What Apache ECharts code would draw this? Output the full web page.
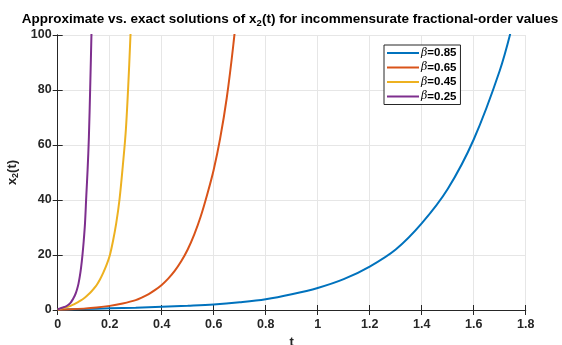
<!DOCTYPE html>
<html>
<head>
<meta charset="utf-8">
<script src="https://cdn.jsdelivr.net/npm/echarts@6/dist/echarts.min.js"></script>
<style>
  html, body { margin: 0; padding: 0; background: #fff; }
  #chart { width: 562px; height: 345px; }
</style>
</head>
<body>
<div id="chart"></div>
<script>
// values, t -> x2(t)
var names = ['β=0.85', 'β=0.65', 'β=0.45', 'β=0.25'];
var colors = ['#0072BD', '#D95319', '#EDB120', '#7E2F8E'];

var tBlue = [0, 0.1, 0.2, 0.3, 0.4, 0.5, 0.6, 0.7, 0.8, 0.9, 1.0, 1.1, 1.2, 1.3, 1.4, 1.5, 1.6, 1.7, 1.75, 1.8];
var vBlue = [0.1, 0.35, 0.6, 0.85, 1.2, 1.55, 2.0, 2.8, 3.9, 5.7, 8.0, 11.2, 15.8, 22, 31.5, 44, 62, 87, 104, 125];

var tRed = [0, 0.05, 0.1, 0.15, 0.2, 0.25, 0.3, 0.325, 0.35, 0.375, 0.4, 0.425, 0.45, 0.475, 0.5,
            0.525, 0.55, 0.575, 0.6, 0.625, 0.65, 0.675, 0.7];
var vRed = [0.1, 0.25, 0.5, 0.9, 1.5, 2.4, 3.6, 4.6, 5.8, 7.3, 9.1, 11.4, 14.2, 17.7, 22,
            27.4, 34, 42, 51, 62.5, 77, 96, 119];

var tYellow = [0, 0.0125, 0.025, 0.0375, 0.05, 0.0625, 0.075, 0.0875, 0.1, 0.1125, 0.125, 0.1375,
               0.15, 0.1625, 0.175, 0.1875, 0.2, 0.2125, 0.225, 0.2375, 0.25, 0.2625, 0.275, 0.2875];
var vYellow = [0.2, 0.5, 0.8, 1.15, 1.5, 2.05, 2.7, 3.4, 4.2, 5.2, 6.3, 7.6,
               9.1, 11.1, 13.5, 16.3, 19.7, 25, 31.5, 40, 52, 66, 89, 118];

var tPurple = [0, 0.01, 0.02, 0.03, 0.04, 0.05, 0.055, 0.06, 0.065, 0.07, 0.075, 0.08, 0.085,
               0.09, 0.095, 0.1, 0.105, 0.11, 0.115, 0.12, 0.125, 0.13, 0.135];
var vPurple = [0.3, 0.6, 0.9, 1.25, 1.8, 2.7, 3.4, 4.2, 5.1, 6.2, 7.7, 9.6, 12.2,
               15.5, 19.8, 25, 31.5, 41.5, 51, 63, 81, 101, 125];

var xTicks = [0, 0.2, 0.4, 0.6, 0.8, 1, 1.2, 1.4, 1.6, 1.8];
var yTicks = [0, 20, 40, 60, 80, 100];

function pairs(t, v) {
    var out = [];
    for (var i = 0; i < t.length; i++) out.push([t[i], v[i]]);
    return out;
}

var allData = [pairs(tBlue, vBlue), pairs(tRed, vRed), pairs(tYellow, vYellow), pairs(tPurple, vPurple)];

var ink = '#262626';
var font = 'Liberation Sans, Arial, Helvetica, sans-serif';

var chart = echarts.init(document.getElementById('chart'), null, {renderer: 'canvas'});

var series = allData.map(function (d, i) {
    return {
        name: names[i],
        type: 'line',
        data: d,
        showSymbol: false,
        symbol: 'none',
        smooth: 0.35,
        clip: true,
        lineStyle: {color: colors[i], width: 2},
        itemStyle: {color: colors[i]},
        z: 3 + i
    };
});

// frame axes (top / right) only carry the inside ticks of the box
function frameAxis(pos, isX) {
    return {
        type: 'value',
        position: pos,
        min: 0,
        max: isX ? 1.8 : 100,
        interval: isX ? 0.2 : 20,
        axisLine: {show: true, lineStyle: {color: ink, width: 1}},
        axisTick: {show: true, inside: true, length: 5, lineStyle: {color: ink}},
        axisLabel: {show: false},
        splitLine: {show: false}
    };
}

var option = {
    backgroundColor: '#fff',
    animation: false,
    title: {
        text: '{a|Approximate vs. exact solutions of x}{s|2}{a|(t) for incommensurate fractional-order values}',
        left: 290,
        top: 10,
        textAlign: 'center',
        padding: 0,
        textStyle: {
            rich: {
                a: {fontFamily: font, fontWeight: 'bold', fontSize: 13.5, color: '#000', lineHeight: 18},
                s: {fontFamily: font, fontWeight: 'bold', fontSize: 9.5, color: '#000', lineHeight: 18, padding: [8, 0, 0, 0]}
            }
        }
    },
    legend: {
        data: names,
        orient: 'vertical',
        left: 384,
        top: 45,
        icon: 'rect',
        itemWidth: 32,
        itemHeight: 2,
        itemGap: 2.5,
        padding: [2, 4, 2, 3],
        borderColor: ink,
        borderWidth: 1,
        backgroundColor: '#fff',
        formatter: function (n) {
            return '{g|β}{v|' + n.slice(1) + '}';
        },
        textStyle: {
            padding: [0, 0, 0, -3],
            rich: {
                g: {fontFamily: 'DejaVu Serif, Liberation Serif, serif', fontStyle: 'italic', fontSize: 11, color: '#000', lineHeight: 12},
                v: {fontFamily: font, fontWeight: 'bold', fontSize: 11.5, color: '#000', lineHeight: 12}
            }
        }
    },
    grid: {left: 57.7, right: 36.3, top: 35, bottom: 35, containLabel: false, outerBoundsMode: 'none'},
    xAxis: [{
        type: 'value',
        min: 0,
        max: 1.8,
        interval: 0.2,
        name: 't',
        nameLocation: 'middle',
        nameGap: 25,
        nameTextStyle: {fontFamily: font, fontWeight: 'bold', fontSize: 13, color: ink},
        axisLine: {show: true, onZero: false, lineStyle: {color: ink, width: 1}},
        axisTick: {show: true, inside: true, length: 5, lineStyle: {color: ink}},
        axisLabel: {
            fontFamily: font, fontWeight: 'bold', fontSize: 12.5, color: ink, margin: 8,
            formatter: function (v) {
                var best = xTicks.reduce(function (p, c) { return Math.abs(c - v) < Math.abs(p - v) ? c : p; });
                return String(best);
            }
        },
        splitLine: {show: true, lineStyle: {color: '#e6e6e6', width: 1}}
    }, frameAxis('top', true)],
    yAxis: [{
        type: 'value',
        min: 0,
        max: 100,
        interval: 20,
        name: '{a|x}{s|2}{a|(t)}',
        nameLocation: 'middle',
        nameGap: 34,
        nameRotate: 90,
        nameTextStyle: {
            rich: {
                a: {fontFamily: font, fontWeight: 'bold', fontSize: 13, color: ink, lineHeight: 17},
                s: {fontFamily: font, fontWeight: 'bold', fontSize: 9, color: ink, lineHeight: 17, padding: [7, 0, 0, 0]}
            }
        },
        axisLine: {show: true, onZero: false, lineStyle: {color: ink, width: 1}},
        axisTick: {show: true, inside: true, length: 5, lineStyle: {color: ink}},
        axisLabel: {
            fontFamily: font, fontWeight: 'bold', fontSize: 12.5, color: ink, margin: 6,
            formatter: function (v) { return yTicks.indexOf(Math.round(v)) >= 0 ? String(Math.round(v)) : ''; }
        },
        splitLine: {show: true, lineStyle: {color: '#e6e6e6', width: 1}}
    }, frameAxis('right', false)],
    series: series
};

chart.setOption(option);
</script>
</body>
</html>
